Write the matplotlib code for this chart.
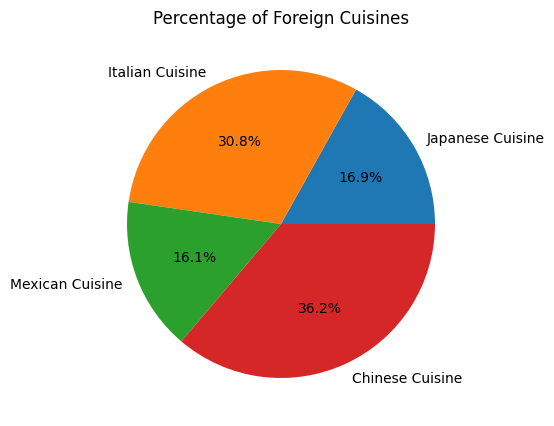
import matplotlib
matplotlib.use("Agg")
import matplotlib.pyplot as plt

labels = ["Japanese Cuisine", "Italian Cuisine", "Mexican Cuisine", "Chinese Cuisine"]
values = [16.9, 30.8, 16.1, 36.2]
title = "Percentage of Foreign Cuisines"

fig = plt.figure(figsize=(5.54, 4.27), dpi=100)
W, H = 554, 427
cx, cy, r = 281, 225, 154
side = r * 2.5
ax = fig.add_axes([(cx - side / 2) / W, (H - cy - side / 2) / H, side / W, side / H])
ax.pie(values, labels=labels, autopct="%1.1f%%")
ax.set_title(title)
fig.savefig("out.png", dpi=100)
